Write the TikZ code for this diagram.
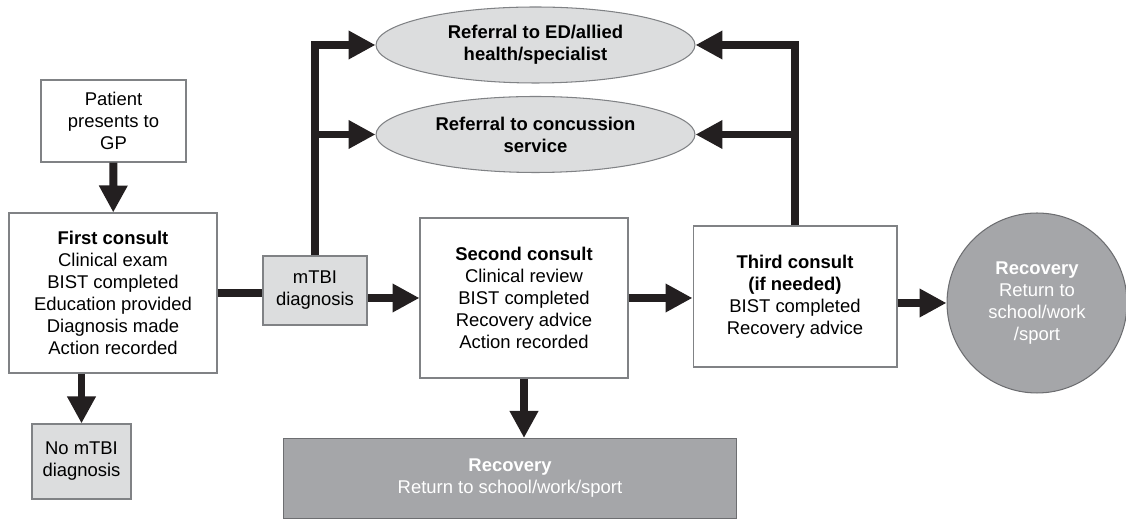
\documentclass[tikz,border=0pt]{standalone}
\usepackage{fontspec}
\setmainfont{Liberation Sans}
\usetikzlibrary{positioning,shapes.geometric,arrows.meta}
\definecolor{inkblack}{HTML}{231F20}
\definecolor{lightfill}{HTML}{DCDDDE}
\definecolor{darkfill}{HTML}{A5A6A9}
\definecolor{edgegrey}{HTML}{808285}
\definecolor{darkedge}{HTML}{6D6E71}

\begin{document}
\begin{tikzpicture}[
			x=0.02cm,
			y=-0.02cm,
			font=\fontsize{10.5}{12.6}\selectfont,
			box/.style={
				rectangle,
				draw=edgegrey,
				line width=0.6pt,
				fill=white,
				align=center,
				inner sep=0pt
			},
			greybox/.style={
				box,
				fill=lightfill
			},
			referral/.style={
				ellipse,
				draw=edgegrey,
				line width=0.6pt,
				fill=lightfill,
				align=center,
				inner sep=0pt,
				minimum width=6.38cm,
				minimum height=1.52cm,
				font=\fontsize{10.5}{12.6}\selectfont\bfseries
			},
			recovery/.style={
				draw=darkedge,
				line width=0.6pt,
				fill=darkfill,
				text=white,
				align=center,
				inner sep=0pt
			},
			flow/.style={
				line width=4.5pt,
				draw=inkblack,
				-{Triangle[length=0.54cm,width=0.54cm]}
			},
			bar/.style={
				line width=4.5pt,
				draw=inkblack
			}
			]
			\useasboundingbox (0,0) rectangle (1126,519);

			% left column
			\node[box, minimum width=2.9cm, minimum height=1.64cm] (patient) at (113.5,121) {Patient\\presents to\\GP};
			\node[box, minimum width=4.16cm, minimum height=3.2cm] (first) at (113,293) {\textbf{First consult}\\Clinical exam\\BIST completed\\Education provided\\Diagnosis made\\Action recorded};
			\node[greybox, minimum width=1.98cm, minimum height=1.5cm] (nomtbi) at (81.5,461.5) {No mTBI\\diagnosis};
			\node[greybox, minimum width=2.08cm, minimum height=1.38cm] (mtbi) at (315,290.5) {mTBI\\diagnosis};

			% middle and right
			\node[box, minimum width=4.16cm, minimum height=3.2cm] (second) at (524,298) {\textbf{Second consult}\\Clinical review\\BIST completed\\Recovery advice\\Action recorded};
			\node[box, minimum width=4.08cm, minimum height=2.82cm] (third) at (795,296.5) {\textbf{Third consult}\\\textbf{(if needed)}\\BIST completed\\Recovery advice};
			\node[referral] (ed) at (535.5,45) {Referral to ED/allied\\health/specialist};
			\node[referral] (conc) at (535.5,134.5) {Referral to concussion\\service};
			\node[recovery, circle, minimum size=3.6cm] (recround) at (1037,303) {\textbf{Recovery}\\Return to\\school/work\\/sport};
			\node[recovery, rectangle, minimum width=9.08cm, minimum height=1.6cm] (recbar) at (510,478.5) {\textbf{Recovery}\\Return to school/work/sport};

			% connectors
			\draw[flow] (patient) -- (first);
			\draw[bar] (first.east) -- (first.east -| mtbi.west);
			\draw[flow] (nomtbi.north |- first.south) -- (nomtbi.north);
			\draw[flow] (mtbi.east |- second.west) -- (second.west);
			\draw[flow] (second.east) -- (third.west |- second.east);
			\draw[flow] (third.east |- recround.west) -- (recround.west);
			\draw[flow] (second.south) -- (second.south |- recbar.north);
			\draw[flow] (mtbi.north) |- (ed.west);
			\draw[flow] (mtbi.north |- conc.west) -- (conc.west);
			\draw[flow] (third.north) |- (ed.east);
			\draw[flow] (third.north |- conc.east) -- (conc.east);
		\end{tikzpicture}
\end{document}
